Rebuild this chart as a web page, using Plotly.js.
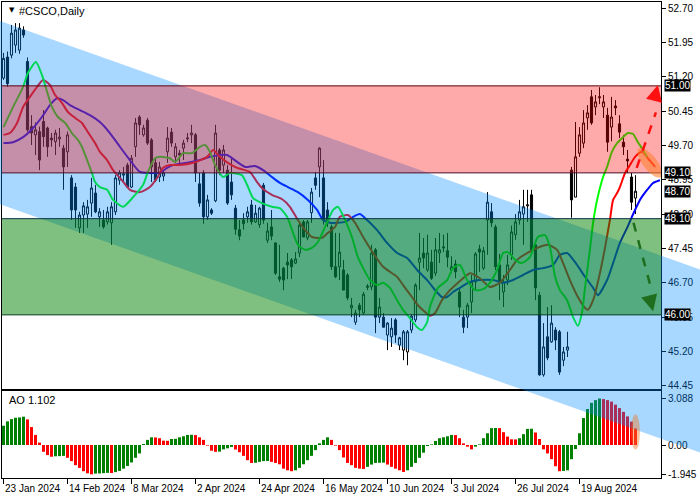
<!DOCTYPE html>
<html><head><meta charset="utf-8">
<script src="https://cdn.plot.ly/plotly-3.0.1.min.js"></script>
<style>html,body{margin:0;padding:0;background:#fff}#chart{width:700px;height:500px}</style>
</head><body><div id="chart"></div>
<script>
// ---------- DATA ----------
const openP = [51.17,51.63,51.67,51.89,51.78,52.22,51.53,50.11,49.93,50.00,
50.22,50.08,49.86,49.78,49.84,49.64,49.56,48.99,48.79,47.90,
48.18,48.20,48.44,48.66,48.14,48.07,48.03,48.01,48.25,48.94,
49.05,49.27,48.79,49.67,50.32,49.93,50.25,49.82,49.32,49.01,
49.03,49.56,49.99,49.45,49.53,49.64,49.84,49.93,49.93,48.86,
49.10,48.14,48.29,48.49,49.60,49.27,49.16,48.90,48.33,47.86,
48.07,48.14,48.40,48.03,47.97,48.83,47.63,47.92,47.57,46.83,
47.02,47.15,47.20,47.13,47.35,48.03,47.68,48.23,48.99,49.23,
48.99,48.29,47.92,47.05,47.05,46.98,46.87,46.15,45.84,46.21,
46.04,46.60,46.61,47.42,45.95,45.95,45.56,45.52,45.89,45.34,
45.23,45.19,45.67,45.89,47.15,47.35,46.98,47.15,46.91,47.35,
47.46,47.40,46.98,47.11,46.50,45.95,45.95,46.28,46.72,47.44,
47.02,48.07,48.25,47.92,47.09,46.50,46.76,47.31,47.75,48.07,
48.20,48.38,48.62,47.53,46.43,44.69,45.52,45.41,45.67,45.63,
45.01,45.23,49.16,48.57,49.53,49.75,50.30,50.76,50.54,50.74,
50.54,50.36,50.10,50.56,50.17,49.77,49.40,49.01,48.55];
const highP = [51.72,51.75,52.33,52.37,52.37,52.30,51.62,50.36,50.20,50.11,
50.47,50.11,49.97,50.04,50.08,49.71,50.00,49.05,48.88,48.25,
48.46,48.51,48.99,48.84,48.33,48.29,48.36,48.46,49.05,49.16,
49.23,49.32,49.49,50.30,50.36,50.15,50.30,49.86,49.40,49.34,
49.16,50.10,50.08,49.75,49.60,49.82,49.97,50.15,49.97,49.10,
49.16,48.62,48.33,50.15,49.64,49.71,49.27,49.45,48.40,48.07,
48.22,48.36,48.51,48.40,48.36,48.88,48.01,48.29,47.59,47.53,
47.05,47.35,47.24,47.37,48.03,48.07,48.07,48.77,49.12,49.66,
49.38,48.46,47.97,47.79,47.79,47.20,46.91,46.37,46.11,46.26,
46.50,46.67,47.53,47.46,46.37,46.04,45.84,45.93,45.93,45.52,
45.67,45.67,46.02,46.69,47.79,47.68,47.75,47.42,47.68,47.79,
47.75,47.79,47.28,47.20,46.58,46.11,46.26,46.87,47.37,47.53,
47.48,48.68,48.44,47.97,47.33,46.87,47.31,47.95,48.20,48.51,
48.73,48.73,48.73,47.64,46.50,45.82,46.17,46.21,45.73,45.67,
45.30,45.63,49.23,50.21,50.10,50.47,50.58,50.91,50.80,50.97,
50.80,50.52,50.76,50.69,50.36,49.93,49.60,49.10,49.05];
const lowP = [51.13,50.98,51.60,51.72,51.70,52.05,50.00,49.71,49.49,49.16,
49.67,49.45,49.67,49.49,49.67,48.73,49.23,48.07,47.90,47.79,
47.79,47.90,48.14,48.22,47.92,47.88,47.97,47.53,48.18,48.84,
48.90,48.77,48.77,49.45,49.93,49.89,49.71,48.90,48.90,48.90,
48.92,49.32,49.67,49.32,49.27,49.38,49.77,49.75,48.90,48.36,
47.99,48.07,48.18,48.46,49.05,49.10,48.40,48.51,47.75,47.63,
47.86,48.01,47.97,48.01,47.90,47.99,47.57,47.63,46.87,46.72,
46.54,46.78,46.78,47.11,47.26,47.70,47.63,48.01,48.73,48.57,
47.97,47.92,46.98,46.80,46.76,46.54,46.32,45.95,45.78,45.95,
46.00,46.54,46.54,45.60,45.82,45.73,45.23,45.30,45.39,45.23,
45.01,44.90,45.60,45.84,46.54,47.02,46.94,46.76,46.85,47.13,
47.37,47.04,46.91,46.80,45.95,45.60,45.71,46.04,46.54,46.94,
46.98,47.31,47.92,46.98,46.32,46.17,46.65,47.20,47.64,47.97,
47.53,48.03,47.35,46.32,44.67,44.65,45.01,45.39,45.23,44.69,
44.88,45.08,48.12,48.57,49.45,49.64,50.04,50.15,50.36,50.60,
50.30,49.56,49.79,50.36,49.86,49.49,49.10,48.29,48.20];
const closeP = [51.60,51.05,52.15,52.22,52.26,52.11,50.04,49.97,50.04,49.38,
49.89,49.67,49.82,49.97,49.88,49.23,49.93,48.29,48.29,48.18,
48.38,48.36,48.77,48.25,48.25,47.92,48.25,48.36,48.99,49.10,
49.08,48.79,49.42,50.19,50.15,50.08,49.75,49.23,48.94,49.23,
49.10,49.86,49.75,49.67,49.49,49.75,49.86,49.97,49.10,48.44,
48.14,48.51,48.22,49.97,49.16,49.60,48.44,48.62,47.87,47.72,
47.99,48.25,48.03,48.22,48.33,48.07,47.83,47.72,46.91,46.78,
46.76,47.09,47.05,47.22,47.96,47.70,48.03,48.68,48.83,49.64,
48.07,48.01,47.05,46.83,47.37,46.54,46.37,46.21,46.04,46.11,
46.45,46.63,47.35,45.95,46.17,45.73,45.82,45.71,45.56,45.50,
45.63,45.63,45.97,46.65,47.24,47.24,47.35,46.80,47.42,47.42,
47.48,47.26,47.05,46.94,46.17,45.73,46.21,46.72,47.33,47.37,
47.40,48.46,48.01,47.05,46.72,46.72,47.09,47.81,48.03,48.25,
48.36,48.40,47.42,46.59,44.69,45.30,45.06,45.82,45.45,44.75,
45.19,45.30,48.51,49.45,49.93,50.19,50.41,50.19,50.65,50.76,
50.65,49.77,50.32,50.52,49.99,49.67,49.36,48.46,48.70];

const aoValues = [1.28,1.57,1.72,1.81,1.83,1.88,1.70,1.19,0.67,0.16,
-0.45,-0.67,-0.78,-0.75,-0.74,-0.72,-0.85,-1.07,-1.34,-1.52,
-1.74,-1.88,-1.945,-1.90,-1.89,-1.87,-1.85,-1.86,-1.80,-1.72,
-1.57,-1.39,-1.16,-0.85,-0.56,0.07,0.34,0.51,0.50,0.45,
0.29,0.28,0.40,0.41,0.51,0.58,0.67,0.68,0.66,0.51,
0.34,-0.04,-0.38,-0.45,-0.44,-0.29,-0.22,-0.13,-0.30,-0.48,
-0.72,-1.01,-1.19,-1.18,-1.12,-1.07,-1.06,-1.12,-1.19,-1.28,
-1.57,-1.68,-1.74,-1.68,-1.52,-1.28,-1.01,-0.72,-0.34,0.11,
0.34,0.51,0.34,-0.04,-0.34,-0.83,-1.19,-1.34,-1.52,-1.57,
-1.59,-1.45,-1.30,-1.19,-1.18,-1.17,-1.30,-1.45,-1.57,-1.68,
-1.79,-1.68,-1.45,-1.19,-0.85,-0.51,-0.07,0.04,0.27,0.45,
0.51,0.58,0.67,0.66,0.45,0.11,-0.11,-0.29,-0.11,0.04,
0.45,0.78,1.12,1.13,1.12,0.85,0.56,0.38,0.37,0.45,
0.72,1.07,1.08,0.83,0.40,-0.29,-0.56,-0.94,-1.41,-1.74,
-1.72,-1.68,-0.94,-0.27,0.78,1.79,2.39,2.80,2.98,3.088,
3.05,2.98,2.88,2.68,2.45,2.20,1.90,1.55,1.10];

// Alligator lines (bar position, price)
const jawX = [0,2.4,4.9,7.4,9.6,11.6,13.4,14.9,16.6,19.1,21.6,24.1,26.6,29.1,31.6,34.1,36.6,39.1,40.9,42.4,45.9,49.1,51.6,54.1,55.9,58.4,60.4,62.9,64.9,67.1,69.1,71.1,73.6,76.1,78.4,79.9,81.6,83.4,85.4,87.4,89.1,90.9,93.4,95.9,98.4,100.9,103.4,105.9,107.9,109.6,110.9,112.4,114.1,116.6,119.1,122.4,124.9,127.4,129.9,132.4,134.9,137.4,139.1,140.9,142.9,145.4,147.4,148.6,150.9,152.4,154.1,155.9,157.1,159.1,160.9,162.4,164.1];
const jawY = [49.75,49.77,49.88,50.08,50.32,50.58,50.73,50.69,50.58,50.47,50.36,50.21,49.97,49.67,49.38,49.12,49.10,49.10,49.21,49.27,49.32,49.38,49.45,49.49,49.49,49.34,49.23,49.25,49.16,49.01,48.88,48.79,48.68,48.51,48.29,48.07,48.01,48.01,48.03,48.14,48.20,48.07,47.85,47.57,47.35,47.24,46.98,46.76,46.54,46.39,46.39,46.50,46.59,46.72,46.76,46.76,46.70,46.76,46.87,46.98,47.02,47.09,47.31,47.35,47.15,46.83,46.59,46.43,46.76,47.13,47.57,47.90,48.14,48.51,48.73,48.88,48.94];
const teethX = [0,1.6,3.4,4.9,6.6,8.4,9.9,11.6,12.9,14.6,16.1,17.9,19.6,21.1,22.9,24.1,25.9,27.4,29.6,31.6,34.1,36.6,38.4,39.9,41.6,44.1,47.4,50.9,52.4,54.1,56.1,58.4,59.6,61.6,63.4,64.6,67.1,69.6,71.6,73.6,75.4,77.1,79.6,81.1,82.9,84.1,86.1,87.9,89.9,92.4,94.9,96.6,98.4,99.9,102.1,103.6,105.4,106.6,107.9,109.6,111.6,113.6,115.9,116.6,119.1,121.6,124.1,126.6,128.4,130.9,133.4,136.1,138.4,139.9,141.6,143.6,145.4,146.1,147.4,149.1,150.4,151.6,152.4,153.4,154.1,155.4,156.6,157.9,159.6,161.1,162.9];
const teethY = [49.93,49.97,50.19,50.54,50.76,50.98,51.13,51.02,50.80,50.63,50.43,50.30,50.19,49.99,49.75,49.56,49.38,49.16,48.94,48.73,48.68,48.79,48.99,49.21,49.27,49.27,49.32,49.45,49.60,49.45,49.32,49.21,49.18,49.12,48.90,48.77,48.62,48.53,48.36,48.07,47.85,47.70,47.68,47.79,47.92,48.14,48.18,48.01,47.70,47.35,47.05,46.94,46.83,46.65,46.39,46.21,46.06,45.98,46.04,46.32,46.54,46.70,46.87,46.91,46.80,46.61,46.70,46.98,47.20,47.35,47.46,47.53,47.42,47.13,46.76,46.39,46.15,46.11,46.32,46.91,47.48,48.07,48.51,48.66,48.79,49.10,49.27,49.45,49.56,49.42,49.23];
const lipsX = [0,2.4,4.9,6.1,8.1,9.6,10.9,12.1,13.6,15.4,17.1,18.6,19.6,20.9,22.1,22.9,24.1,25.9,27.4,29.9,32.4,34.9,36.1,37.9,39.1,41.6,42.9,44.9,47.1,49.1,50.4,51.6,52.9,54.9,56.6,59.6,60.9,62.4,64.6,67.1,69.1,70.9,72.4,73.6,75.4,77.1,78.6,80.4,82.4,83.6,85.4,87.1,88.6,90.4,91.6,93.4,94.9,96.6,98.4,99.9,101.6,103.4,104.6,105.9,106.6,108.6,110.9,112.4,114.1,115.9,117.9,119.9,121.6,123.4,124.9,126.1,127.9,129.6,131.6,133.6,135.4,136.6,137.9,139.1,140.9,142.4,143.6,144.6,145.4,146.6,147.4,148.4,149.9,150.9,152.1,153.4,154.9,156.1,157.4,158.6,159.6,160.9];
const lipsY = [50.10,50.54,50.98,51.28,51.52,51.24,50.87,50.54,50.32,50.19,49.97,49.82,49.67,49.38,49.10,48.90,48.79,48.73,48.51,48.36,48.57,48.84,49.12,49.42,49.45,49.42,49.34,49.53,49.53,49.67,49.71,49.56,49.27,49.01,49.10,49.05,48.84,48.55,48.44,48.36,48.33,48.14,47.79,47.53,47.42,47.46,47.59,47.92,48.29,48.36,48.07,47.70,47.26,46.94,46.76,46.65,46.70,46.59,46.32,46.11,45.93,45.73,45.67,45.84,46.17,46.59,46.76,47.02,47.09,46.76,46.54,46.56,46.70,46.98,47.35,47.37,47.20,47.13,47.26,47.70,47.74,47.48,46.83,46.54,46.32,45.95,45.76,46.04,46.61,47.42,48.01,48.51,49.01,49.23,49.56,49.75,49.88,49.97,49.95,49.77,49.64,49.45];

const dateTickBars = [0,16,32,48,64,80,96,112,128,144];
const dateTickText = ['23 Jan 2024','14 Feb 2024','8 Mar 2024','2 Apr 2024','24 Apr 2024','16 May 2024','10 Jun 2024','3 Jul 2024','26 Jul 2024','19 Aug 2024'];
const priceTicks = [52.70,51.95,51.20,50.45,49.70,48.95,48.20,47.45,46.70,45.95,45.20,44.45];
const aoTicks = [3.088,0,-1.945];
const aoTickText = ['3.088','0.00','-1.945'];

const resistTop = 51.00, resistBottom = 49.10;
const supportTop = 48.10, supportBottom = 46.00;
const lastPrice = 48.70;
const aoLast = '1.102';
const symbolTitle = '#CSCO,Daily';

// channel anchors (bar, price)
const channelBars = [0, 160];
const channelUpper = [52.39, 47.43];
const channelLower = [48.39, 43.43];

// forecast arrows (bar, price)
const upArrow = [[158.3, 49.21], [163.6, 51.02]];
const downArrow = [[157.5, 48.01], [162.4, 46.08]];

// ---------- GEOMETRY ----------
const W = 700, H = 500, ML = 2, MR = 39, MT = 2, MB = 22;
const plotW = W - ML - MR, plotH = H - MT - MB;
const xRange = [-0.375, 164.375];
const mainRange = [44.381, 52.831];
const aoRange = [-2.191, 3.586];
const mainBottomPx = 389, aoTopPx = 391;
const mainDomain = [(H - MB - mainBottomPx) / plotH, 1];
const aoDomain = [0, (H - MB - aoTopPx) / plotH];

const barToPx = b => ML + (b - xRange[0]) / (xRange[1] - xRange[0]) * plotW;
const priceToPx = p => MT + (mainRange[1] - p) / (mainRange[1] - mainRange[0]) * (mainBottomPx - MT);
const pxToBar = px => xRange[0] + (px - ML) / plotW * (xRange[1] - xRange[0]);
const pxToPrice = py => mainRange[1] - (py - MT) / (mainBottomPx - MT) * (mainRange[1] - mainRange[0]);
const paperX = px => (px - ML) / plotW;
const paperY = py => (H - MB - py) / plotH;

function lineAt(bars, prices, px) {
  const x0 = barToPx(bars[0]), x1 = barToPx(bars[1]);
  const y0 = priceToPx(prices[0]), y1 = priceToPx(prices[1]);
  return y0 + (y1 - y0) * (px - x0) / (x1 - x0);
}
const chPath = [[0, lineAt(channelBars, channelUpper, 0)], [W, lineAt(channelBars, channelUpper, W)],
                [W, lineAt(channelBars, channelLower, W)], [0, lineAt(channelBars, channelLower, 0)]]
  .map((p, i) => (i ? 'L' : 'M') + paperX(p[0]).toFixed(4) + ',' + paperY(p[1]).toFixed(4)).join(' ') + ' Z';

function ellipsePath(cb, cp, a, b, angDeg) {
  const cx = barToPx(cb), cy = priceToPx(cp), th = angDeg * Math.PI / 180;
  let s = '';
  for (let i = 0; i <= 48; i++) {
    const t = i / 48 * 2 * Math.PI;
    const px = cx + a * Math.cos(th) * Math.cos(t) - b * Math.sin(th) * Math.sin(t);
    const py = cy + a * Math.sin(th) * Math.cos(t) + b * Math.cos(th) * Math.sin(t);
    s += (i ? 'L' : 'M') + pxToBar(px).toFixed(3) + ',' + pxToPrice(py).toFixed(4) + ' ';
  }
  return s + 'Z';
}

const bars = openP.map((_, i) => i);
const aoColors = aoValues.map((v, i) => (i === 0 || v > aoValues[i - 1]) ? '#008000' : '#ff0000');

const FONT = 'Liberation Sans, Arial, sans-serif';

const traces = [
  { type: 'candlestick', x: bars, open: openP, high: highP, low: lowP, close: closeP,
    xaxis: 'x', yaxis: 'y', whiskerwidth: 0,
    increasing: { line: { color: '#000', width: 1 }, fillcolor: '#ffffff' },
    decreasing: { line: { color: '#000', width: 1 }, fillcolor: '#000000' },
    hoverinfo: 'skip' },
  { type: 'scatter', mode: 'lines', x: jawX, y: jawY, xaxis: 'x', yaxis: 'y',
    line: { color: '#0000ff', width: 2, shape: 'spline', smoothing: 0.6 }, hoverinfo: 'skip' },
  { type: 'scatter', mode: 'lines', x: teethX, y: teethY, xaxis: 'x', yaxis: 'y',
    line: { color: '#ff0000', width: 2, shape: 'spline', smoothing: 0.6 }, hoverinfo: 'skip' },
  { type: 'scatter', mode: 'lines', x: lipsX, y: lipsY, xaxis: 'x', yaxis: 'y',
    line: { color: '#00ff00', width: 2, shape: 'spline', smoothing: 0.6 }, hoverinfo: 'skip' },
  { type: 'bar', x: bars, y: aoValues, xaxis: 'x2', yaxis: 'y2', width: 0.75,
    marker: { color: aoColors, line: { width: 0 } }, hoverinfo: 'skip' }
];

const shapes = [
  { type: 'path', xref: 'paper', yref: 'paper', path: chPath, fillcolor: 'rgba(0,137,255,0.34)', line: { width: 0 }, layer: 'above' },
  { type: 'rect', xref: 'x', yref: 'y', x0: xRange[0], x1: xRange[1], y0: resistBottom, y1: resistTop, fillcolor: 'rgba(255,5,5,0.34)', line: { width: 0 }, layer: 'above' },
  { type: 'rect', xref: 'x', yref: 'y', x0: xRange[0], x1: xRange[1], y0: supportBottom, y1: supportTop, fillcolor: 'rgba(0,128,0,0.5)', line: { width: 0 }, layer: 'above' },
  { type: 'line', xref: 'x', yref: 'y', x0: xRange[0], x1: xRange[1], y0: resistTop, y1: resistTop, line: { color: '#5e0010', width: 1 }, layer: 'above' },
  { type: 'line', xref: 'x', yref: 'y', x0: xRange[0], x1: xRange[1], y0: resistBottom, y1: resistBottom, line: { color: '#4a1028', width: 1 }, layer: 'above' },
  { type: 'line', xref: 'x', yref: 'y', x0: xRange[0], x1: xRange[1], y0: supportTop, y1: supportTop, line: { color: '#0a3040', width: 1 }, layer: 'above' },
  { type: 'line', xref: 'x', yref: 'y', x0: xRange[0], x1: xRange[1], y0: supportBottom, y1: supportBottom, line: { color: '#003a1a', width: 1 }, layer: 'above' },
  { type: 'path', xref: 'x', yref: 'y', path: ellipsePath(161.6, 49.32, 18, 7, 52), fillcolor: 'rgba(255,130,50,0.6)', line: { width: 0 }, layer: 'above' },
  { type: 'circle', xref: 'x2', yref: 'y2', x0: 156.9, x1: 159.1, y0: -0.31, y1: 2.03, fillcolor: 'rgba(240,120,40,0.45)', line: { width: 0 }, layer: 'above' },
  { type: 'line', xref: 'x', yref: 'y', x0: upArrow[0][0], y0: upArrow[0][1], x1: upArrow[1][0] - 0.5, y1: upArrow[1][1] - 0.6, line: { color: '#ff1010', width: 2.5, dash: 'dash' }, layer: 'above' },
  { type: 'line', xref: 'x', yref: 'y', x0: downArrow[0][0], y0: downArrow[0][1], x1: downArrow[1][0] - 0.5, y1: downArrow[1][1] + 0.5, line: { color: '#1e6e1e', width: 2.5, dash: 'dash' }, layer: 'above' }
];

function priceBox(v) {
  return { xref: 'paper', x: 1, xanchor: 'left', xshift: 3, yref: 'y', y: v, yanchor: 'middle',
    text: v.toFixed(2), showarrow: false, bgcolor: '#000', borderpad: 0,
    font: { family: FONT, size: 10, color: '#fff' } };
}

const dateLabels = dateTickBars.map((b, i) => ({
  xref: 'x2', x: b, xanchor: 'left', xshift: -1, yref: 'paper', y: paperY(489), yanchor: 'middle',
  text: dateTickText[i], showarrow: false, font: { family: FONT, size: 10, color: '#000' }
}));

const annotations = [
  priceBox(resistTop), priceBox(resistBottom), priceBox(lastPrice), priceBox(supportTop), priceBox(supportBottom),
  { xref: 'paper', yref: 'paper', x: paperX(7), y: paperY(10), xanchor: 'left', yanchor: 'middle', text: '▼', showarrow: false, font: { family: 'DejaVu Sans', size: 7, color: '#000' } },
  { xref: 'paper', yref: 'paper', x: paperX(17), y: paperY(11), xanchor: 'left', yanchor: 'middle', text: symbolTitle, showarrow: false, font: { family: FONT, size: 11, color: '#000' } },
  { xref: 'paper', yref: 'paper', x: paperX(7), y: paperY(400), xanchor: 'left', yanchor: 'middle', text: 'AO ' + aoLast, showarrow: false, font: { family: FONT, size: 11, color: '#000' } },
  { xref: 'x', yref: 'y', x: upArrow[1][0], y: upArrow[1][1], ax: -3, ay: 12, text: '', showarrow: true, arrowhead: 2, arrowsize: 1.3, arrowwidth: 2.5, arrowcolor: '#ff1010' },
  { xref: 'x', yref: 'y', x: downArrow[1][0], y: downArrow[1][1], ax: -3, ay: -12, text: '', showarrow: true, arrowhead: 2, arrowsize: 1.3, arrowwidth: 2.5, arrowcolor: '#1e6e1e' }
].concat(dateLabels);

const axLine = { showline: true, linecolor: '#000', linewidth: 1, mirror: true, showgrid: false, zeroline: false, fixedrange: true };

const layout = {
  width: W, height: H, margin: { l: ML, r: MR, t: MT, b: MB, pad: 0 },
  paper_bgcolor: '#fff', plot_bgcolor: '#fff', showlegend: false, hovermode: false,
  boxgap: 0.25, bargap: 0.25,
  xaxis: Object.assign({}, axLine, { domain: [0, 1], anchor: 'y', range: xRange, showticklabels: false, ticks: '', rangeslider: { visible: false } }),
  yaxis: Object.assign({}, axLine, { domain: mainDomain, anchor: 'x', side: 'right', range: mainRange,
    tickvals: priceTicks, ticktext: priceTicks.map(v => v.toFixed(2)), ticks: 'outside', ticklen: 4, tickcolor: '#000',
    tickfont: { family: FONT, size: 10, color: '#000' } }),
  xaxis2: Object.assign({}, axLine, { domain: [0, 1], anchor: 'y2', range: xRange,
    tickvals: dateTickBars, ticks: 'outside', ticklen: 5, tickcolor: '#000', showticklabels: false }),
  yaxis2: Object.assign({}, axLine, { domain: aoDomain, anchor: 'x2', side: 'right', range: aoRange,
    tickvals: aoTicks, ticktext: aoTickText, ticks: 'outside', ticklen: 4, tickcolor: '#000',
    tickfont: { family: FONT, size: 10, color: '#000' } }),
  shapes: shapes, annotations: annotations
};

Plotly.newPlot('chart', traces, layout, { staticPlot: true, displayModeBar: false });
</script></body></html>
